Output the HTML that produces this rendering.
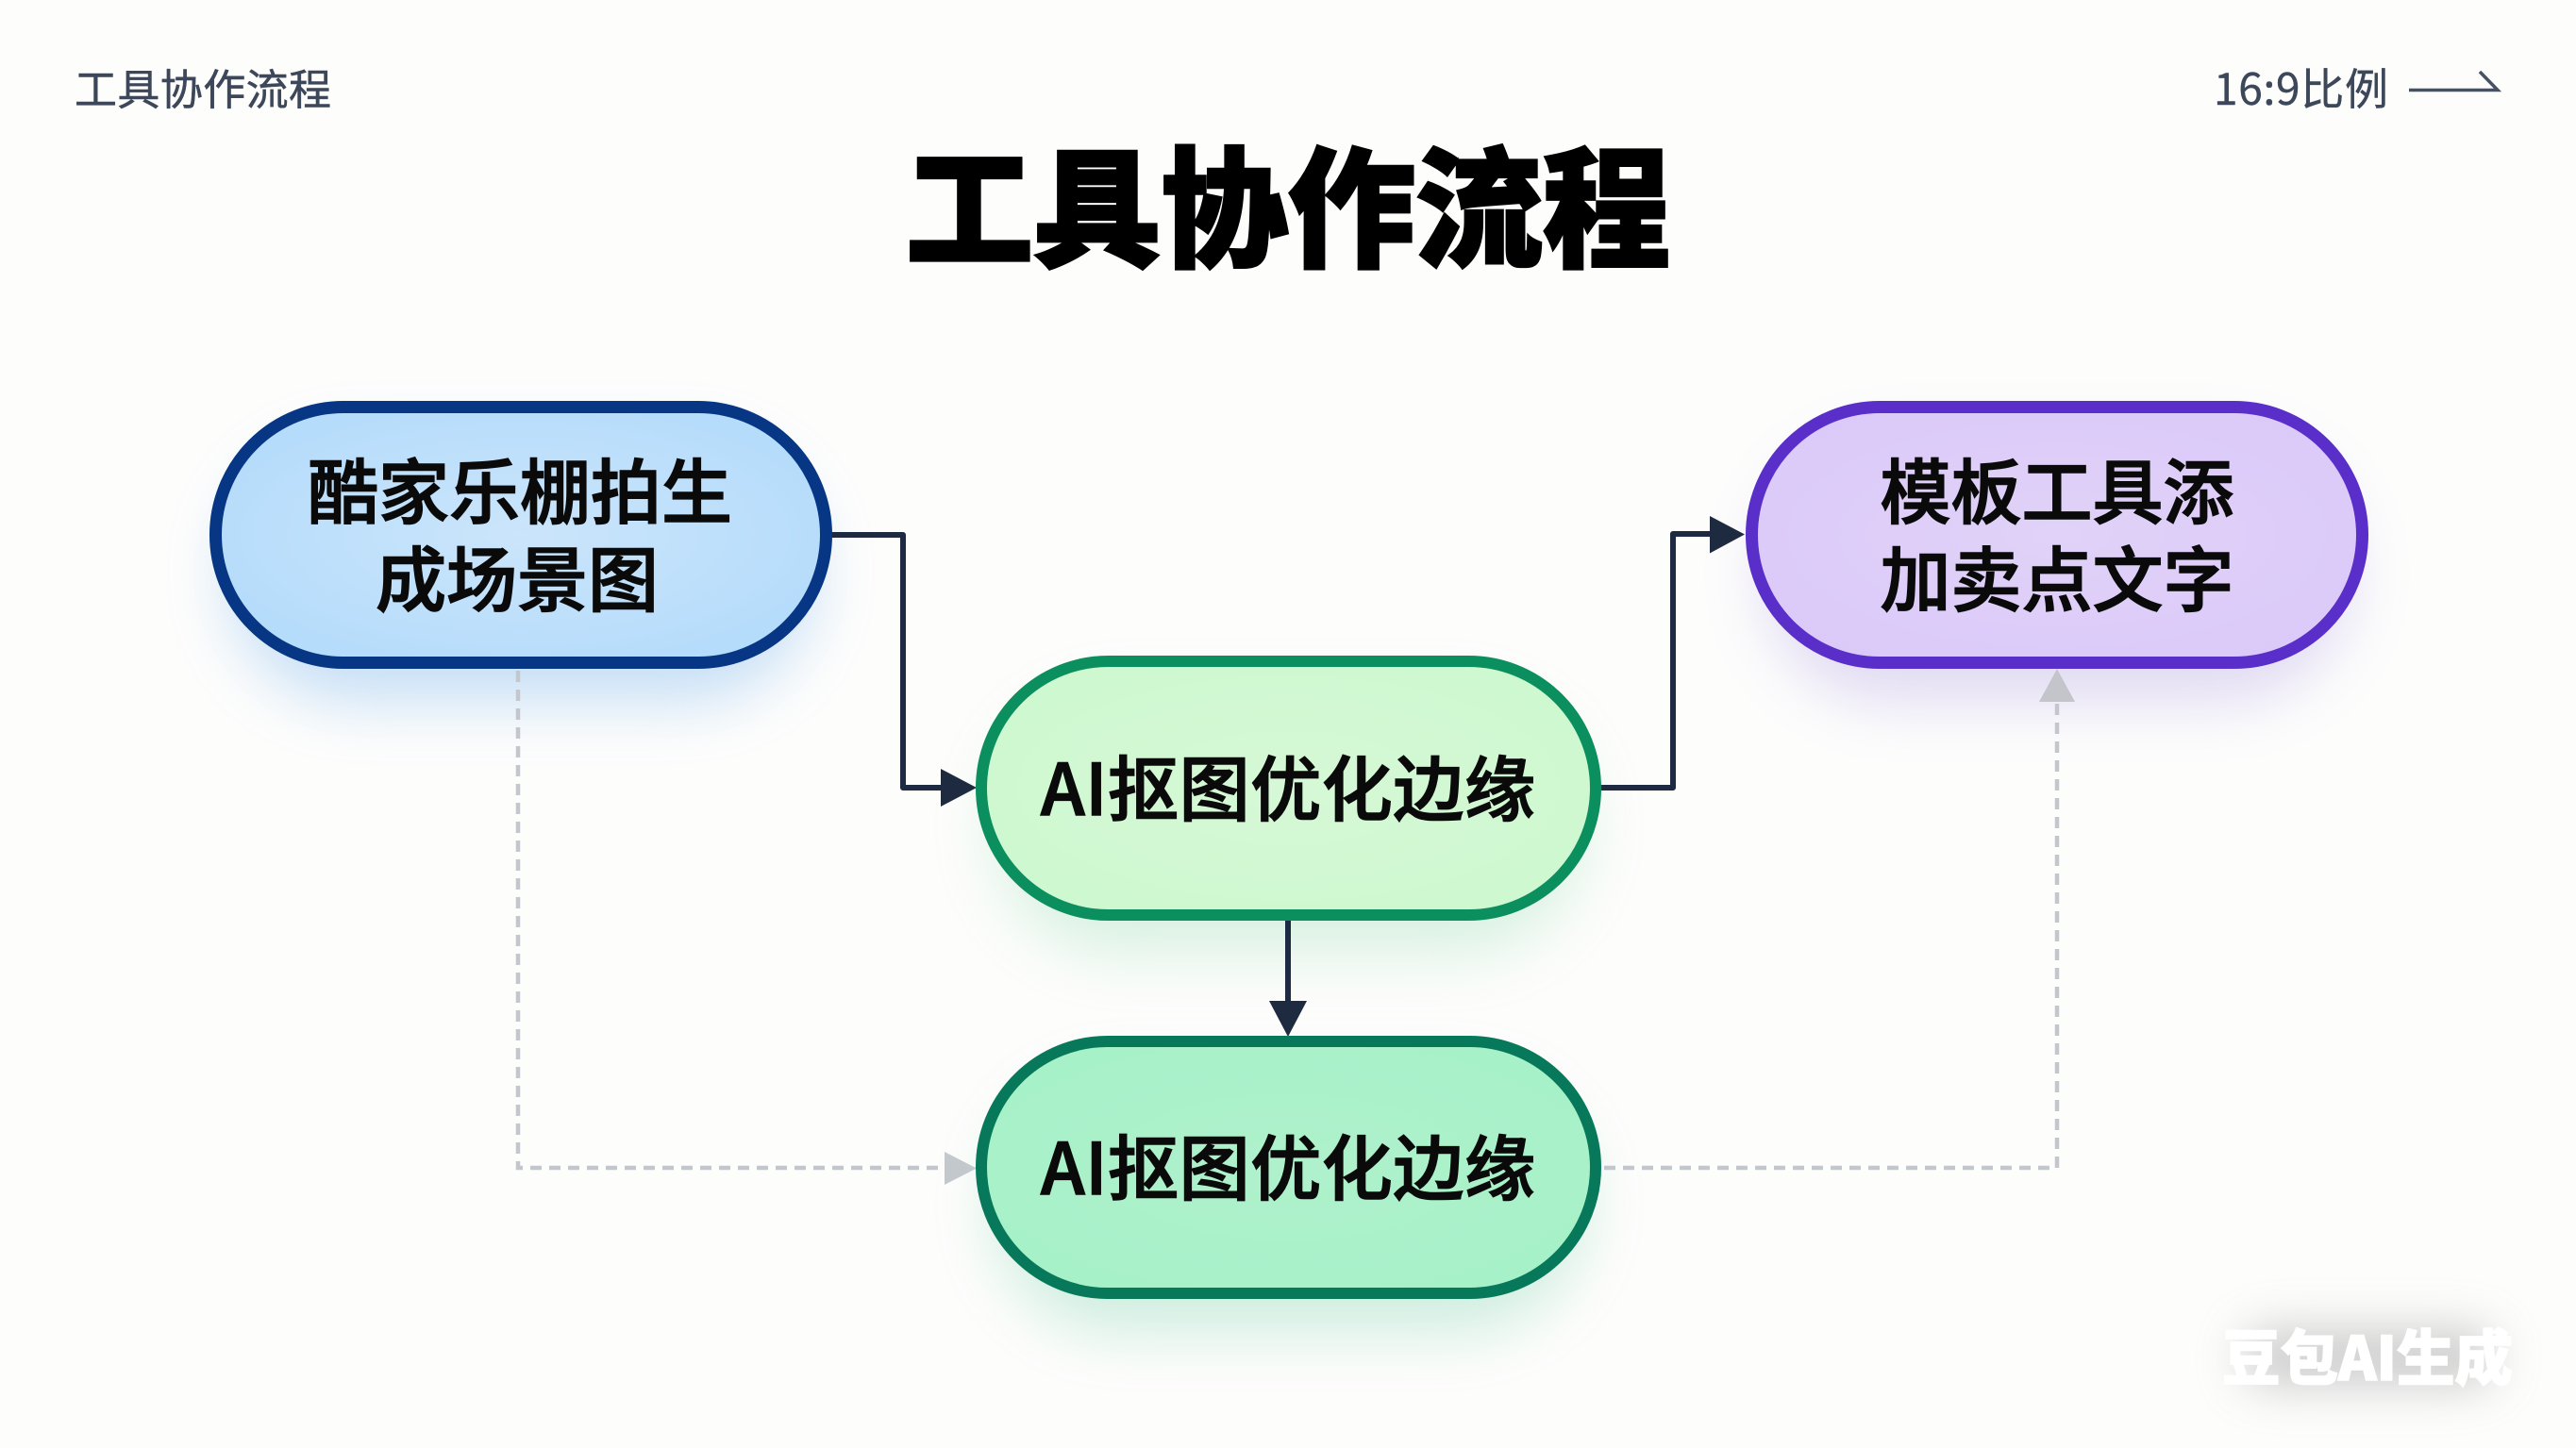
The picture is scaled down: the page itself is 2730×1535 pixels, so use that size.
<!DOCTYPE html>
<html lang="zh">
<head>
<meta charset="utf-8">
<style>
html,body{margin:0;padding:0;width:2730px;height:1535px;overflow:hidden;background:#fdfdfc}
svg{display:block}
text{font-family:"Liberation Sans","Noto Sans CJK SC",sans-serif}
.cjk{font-family:"Noto Sans CJK SC","Liberation Sans",sans-serif}
.n{font-size:75px;font-weight:500;fill:#0a0a0a;text-anchor:middle;stroke:#0a0a0a;stroke-width:1.5px}
</style>
</head>
<body>
<svg width="2730" height="1535" viewBox="0 0 2730 1535" xmlns="http://www.w3.org/2000/svg">
<defs>
<filter id="s" x="-30%" y="-50%" width="160%" height="230%"><feGaussianBlur stdDeviation="32"/></filter>
<filter id="w" x="-30%" y="-100%" width="160%" height="300%"><feGaussianBlur stdDeviation="24"/></filter>
<radialGradient id="g1" cx="50%" cy="50%" r="60%"><stop offset="0" stop-color="#cbe5fb"/><stop offset="1" stop-color="#b3dbfb"/></radialGradient>
<radialGradient id="g2" cx="50%" cy="50%" r="60%"><stop offset="0" stop-color="#d6f8d6"/><stop offset="1" stop-color="#cdf8cf"/></radialGradient>
<radialGradient id="g3" cx="50%" cy="50%" r="60%"><stop offset="0" stop-color="#aff1cc"/><stop offset="1" stop-color="#a6f1c8"/></radialGradient>
<radialGradient id="g4" cx="50%" cy="50%" r="60%"><stop offset="0" stop-color="#e0d2f8"/><stop offset="1" stop-color="#dbc9f9"/></radialGradient>
</defs>
<rect width="2730" height="1535" fill="#fdfdfc"/>

<!-- shadows -->
<rect x="240" y="470" width="624" height="274" rx="137" fill="#5ea6ea" opacity=".34" filter="url(#s)"/>
<rect x="1868" y="470" width="624" height="274" rx="137" fill="#8d78d8" opacity=".26" filter="url(#s)"/>
<rect x="1052" y="740" width="628" height="271" rx="135" fill="#6fcf95" opacity=".26" filter="url(#s)"/>
<rect x="1052" y="1142" width="628" height="270" rx="135" fill="#4cbf8d" opacity=".26" filter="url(#s)"/>

<!-- dashed connectors -->
<g fill="none" stroke="#c3c7cd" stroke-width="4.5" stroke-dasharray="12 8">
<path d="M549 711V1238H1004"/>
<path d="M1700 1238H2180V742"/>
</g>
<path d="M1001 1221L1035 1238.500L1001 1256Z" fill="#c3c8cc"/>
<path d="M2161 744L2180 709L2199 744Z" fill="#c3c5cb"/>

<!-- solid connectors -->
<g fill="none" stroke="#1e2a42" stroke-width="6" stroke-linejoin="round">
<path d="M880 567H957V835H1000"/>
<path d="M1695 835H1773V566H1815"/>
<path d="M1365 974V1064"/>
</g>
<g fill="#1e2a40">
<path d="M997 815L1035 835L997 855Z"/>
<path d="M1812 547L1849 566.500L1812 586.500Z"/>
<path d="M1345 1061H1385L1365 1099Z"/>
</g>

<!-- nodes -->
<rect x="228.500" y="431.500" width="647" height="271" rx="135.500" fill="url(#g1)" stroke="#073684" stroke-width="13"/>
<rect x="1856.500" y="431.500" width="647" height="271" rx="135.500" fill="url(#g4)" stroke="#5a2ec9" stroke-width="13"/>
<rect x="1040" y="701" width="651" height="269" rx="134.500" fill="url(#g2)" stroke="#0b8f5f" stroke-width="12"/>
<rect x="1040" y="1104" width="651" height="267" rx="133.500" fill="url(#g3)" stroke="#07795a" stroke-width="12"/>

<!-- headers -->
<text class="cjk" x="79" y="111" font-size="45" fill="#3c4759" stroke="#3c4759" stroke-width=".5" textLength="272">工具协作流程</text>
<text class="cjk" x="2346" y="111" font-size="46" fill="#3c4759" stroke="#3c4759" stroke-width=".4" textLength="185">16:9比例</text>
<path d="M2553 95.500H2647L2628 76" fill="none" stroke="#465163" stroke-width="3.500"/>
<text class="cjk" x="1365" y="272" font-size="138" font-weight="900" fill="#000" stroke="#000" stroke-width="3" text-anchor="middle" textLength="810" lengthAdjust="spacingAndGlyphs">工具协作流程</text>

<!-- node labels -->
<text class="n cjk" x="551" y="549">酷家乐棚拍生</text>
<text class="n cjk" x="548" y="642">成场景图</text>
<text class="n cjk" x="2180" y="549">模板工具添</text>
<text class="n cjk" x="2180" y="642">加卖点文字</text>
<text class="n cjk" x="1365" y="864" textLength="524">AI抠图优化边缘</text>
<text class="n cjk" x="1365" y="1266" textLength="524">AI抠图优化边缘</text>

<!-- watermark -->
<rect x="2375" y="1408" width="270" height="62" rx="30" fill="#b5b5b5" opacity=".65" filter="url(#w)"/>
<text class="cjk" x="2355" y="1463" font-size="64" font-weight="900" fill="#fff" stroke="#fff" stroke-width="1.500" textLength="308" lengthAdjust="spacingAndGlyphs">豆包AI生成</text>
</svg>
</body>
</html>
